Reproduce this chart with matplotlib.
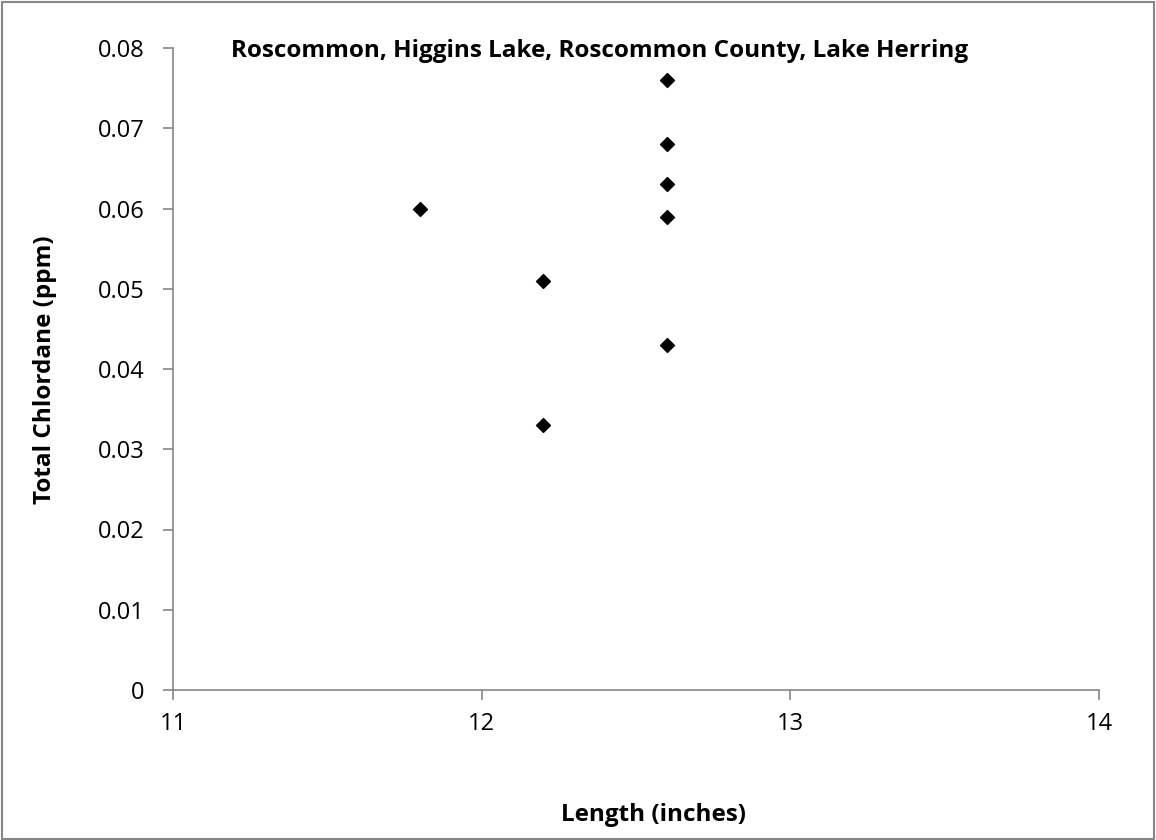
import numpy as np
import matplotlib.pyplot as plt

# Length (inches) vs Total Chlordane (ppm)
length = [11.8, 12.2, 12.2, 12.6, 12.6, 12.6, 12.6, 12.6]
chlordane = [0.060, 0.051, 0.033, 0.076, 0.068, 0.063, 0.059, 0.043]

x_ticks = [11, 12, 13, 14]
y_ticks = [0, 0.01, 0.02, 0.03, 0.04, 0.05, 0.06, 0.07, 0.08]
y_labels = ['0', '0.01', '0.02', '0.03', '0.04', '0.05', '0.06', '0.07', '0.08']

plt.rcParams['font.family'] = ['Open Sans', 'DejaVu Sans']

fig = plt.figure(figsize=(11.56, 8.40), dpi=100)
ax = fig.add_axes([173/1156, 1-690/840, (1099-173)/1156, (690-48)/840])

ax.scatter(length, chlordane, marker='D', s=50, color='black', zorder=3)

ax.set_xlim(11, 14)
ax.set_ylim(0, 0.08)
ax.set_xticks(x_ticks)
ax.set_yticks(y_ticks)
ax.set_yticklabels(y_labels)
ax.tick_params(direction='out', length=7.5, width=1.2, color='#868686', labelsize=17)
ax.tick_params(axis='y', pad=13)
ax.tick_params(axis='x', pad=8)

for s in ['top', 'right']:
    ax.spines[s].set_visible(False)
for s in ['left', 'bottom']:
    ax.spines[s].set_color('#868686')
    ax.spines[s].set_linewidth(1.2)

fig.text(600/1156, 1-51/840, 'Roscommon, Higgins Lake, Roscommon County, Lake Herring',
         ha='center', va='center', fontsize=17.5, fontweight='bold')

fig.text(653/1156, 1-815/840, 'Length (inches)', ha='center', va='center',
         fontsize=17.5, fontweight='bold')
fig.text(45/1156, 1-370/840, 'Total Chlordane (ppm)', ha='center', va='center',
         rotation=90, fontsize=17.5, fontweight='bold')

# outer chart border
fig.patches.append(plt.Rectangle((0.002, 0.001), 0.996, 0.997, transform=fig.transFigure,
                                 fill=False, edgecolor='#868686', linewidth=1.5))

fig.savefig('out.png', dpi=100)
